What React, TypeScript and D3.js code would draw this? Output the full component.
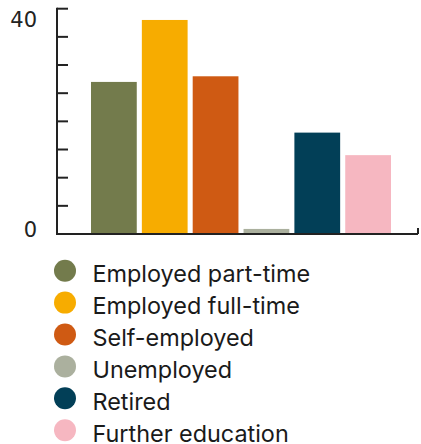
import React from "react";
import * as d3 from "d3";

const categories = ["Employed part-time", "Employed full-time", "Self-employed", "Unemployed", "Retired", "Further education"];
const values = [27, 38, 28, 0.9, 18, 14];
const colors = ["#737b4c", "#f7ac00", "#cf5a13", "#abb09e", "#023f57", "#f6b7c1"];
const yTicks = [0, 5, 10, 15, 20, 25, 30, 35, 40];
const yLabels = [0, 40];

export default function App() {
  const W = 421, H = 444;
  const axisX = 57, top = 8.7, bottom = 234, right = 418;
  const y = d3.scaleLinear().domain([0, 40]).range([bottom, top]);
  const x = d3.scaleBand<string>().domain(categories).range([91, 391]).paddingInner(0.1).paddingOuter(0);
  return (
    <svg width={W} height={H} style={{ position: "absolute", left: 0, top: 0 }}>
      {categories.map((c, i) => (
        <rect key={c} x={x(c)} y={y(values[i])} width={x.bandwidth()} height={bottom - y(values[i])} fill={colors[i]} />
      ))}
      <g stroke="#222" strokeWidth={2} fill="none">
        <line x1={axisX} x2={axisX} y1={top - 1} y2={bottom + 1} />
        {yTicks.map((t) => (
          <line key={t} x1={axisX} x2={axisX + 11} y1={y(t)} y2={y(t)} />
        ))}
        <line x1={axisX} x2={right} y1={bottom} y2={bottom} />
        <line x1={right} x2={right} y1={bottom} y2={bottom - 6} />
      </g>
      {yLabels.map((t) => (
        <text key={t} x={37} y={Math.min(Math.max(y(t), 19.5), 229.5)} dy="0.36em" textAnchor="end"
          fontFamily="DejaVu Sans" fontSize={21} fill="#222">{t}</text>
      ))}
      {categories.map((c, i) => (
        <g key={c} transform={`translate(0, ${270.7 + i * 31.9})`}>
          <circle cx={65} cy={0} r={11} fill={colors[i]} />
          <text x={92.5} y={0} dy="0.5em" fontFamily="Inter" fontSize={23.4} fill="#1a1a1a">{c}</text>
        </g>
      ))}
    </svg>
  );
}
